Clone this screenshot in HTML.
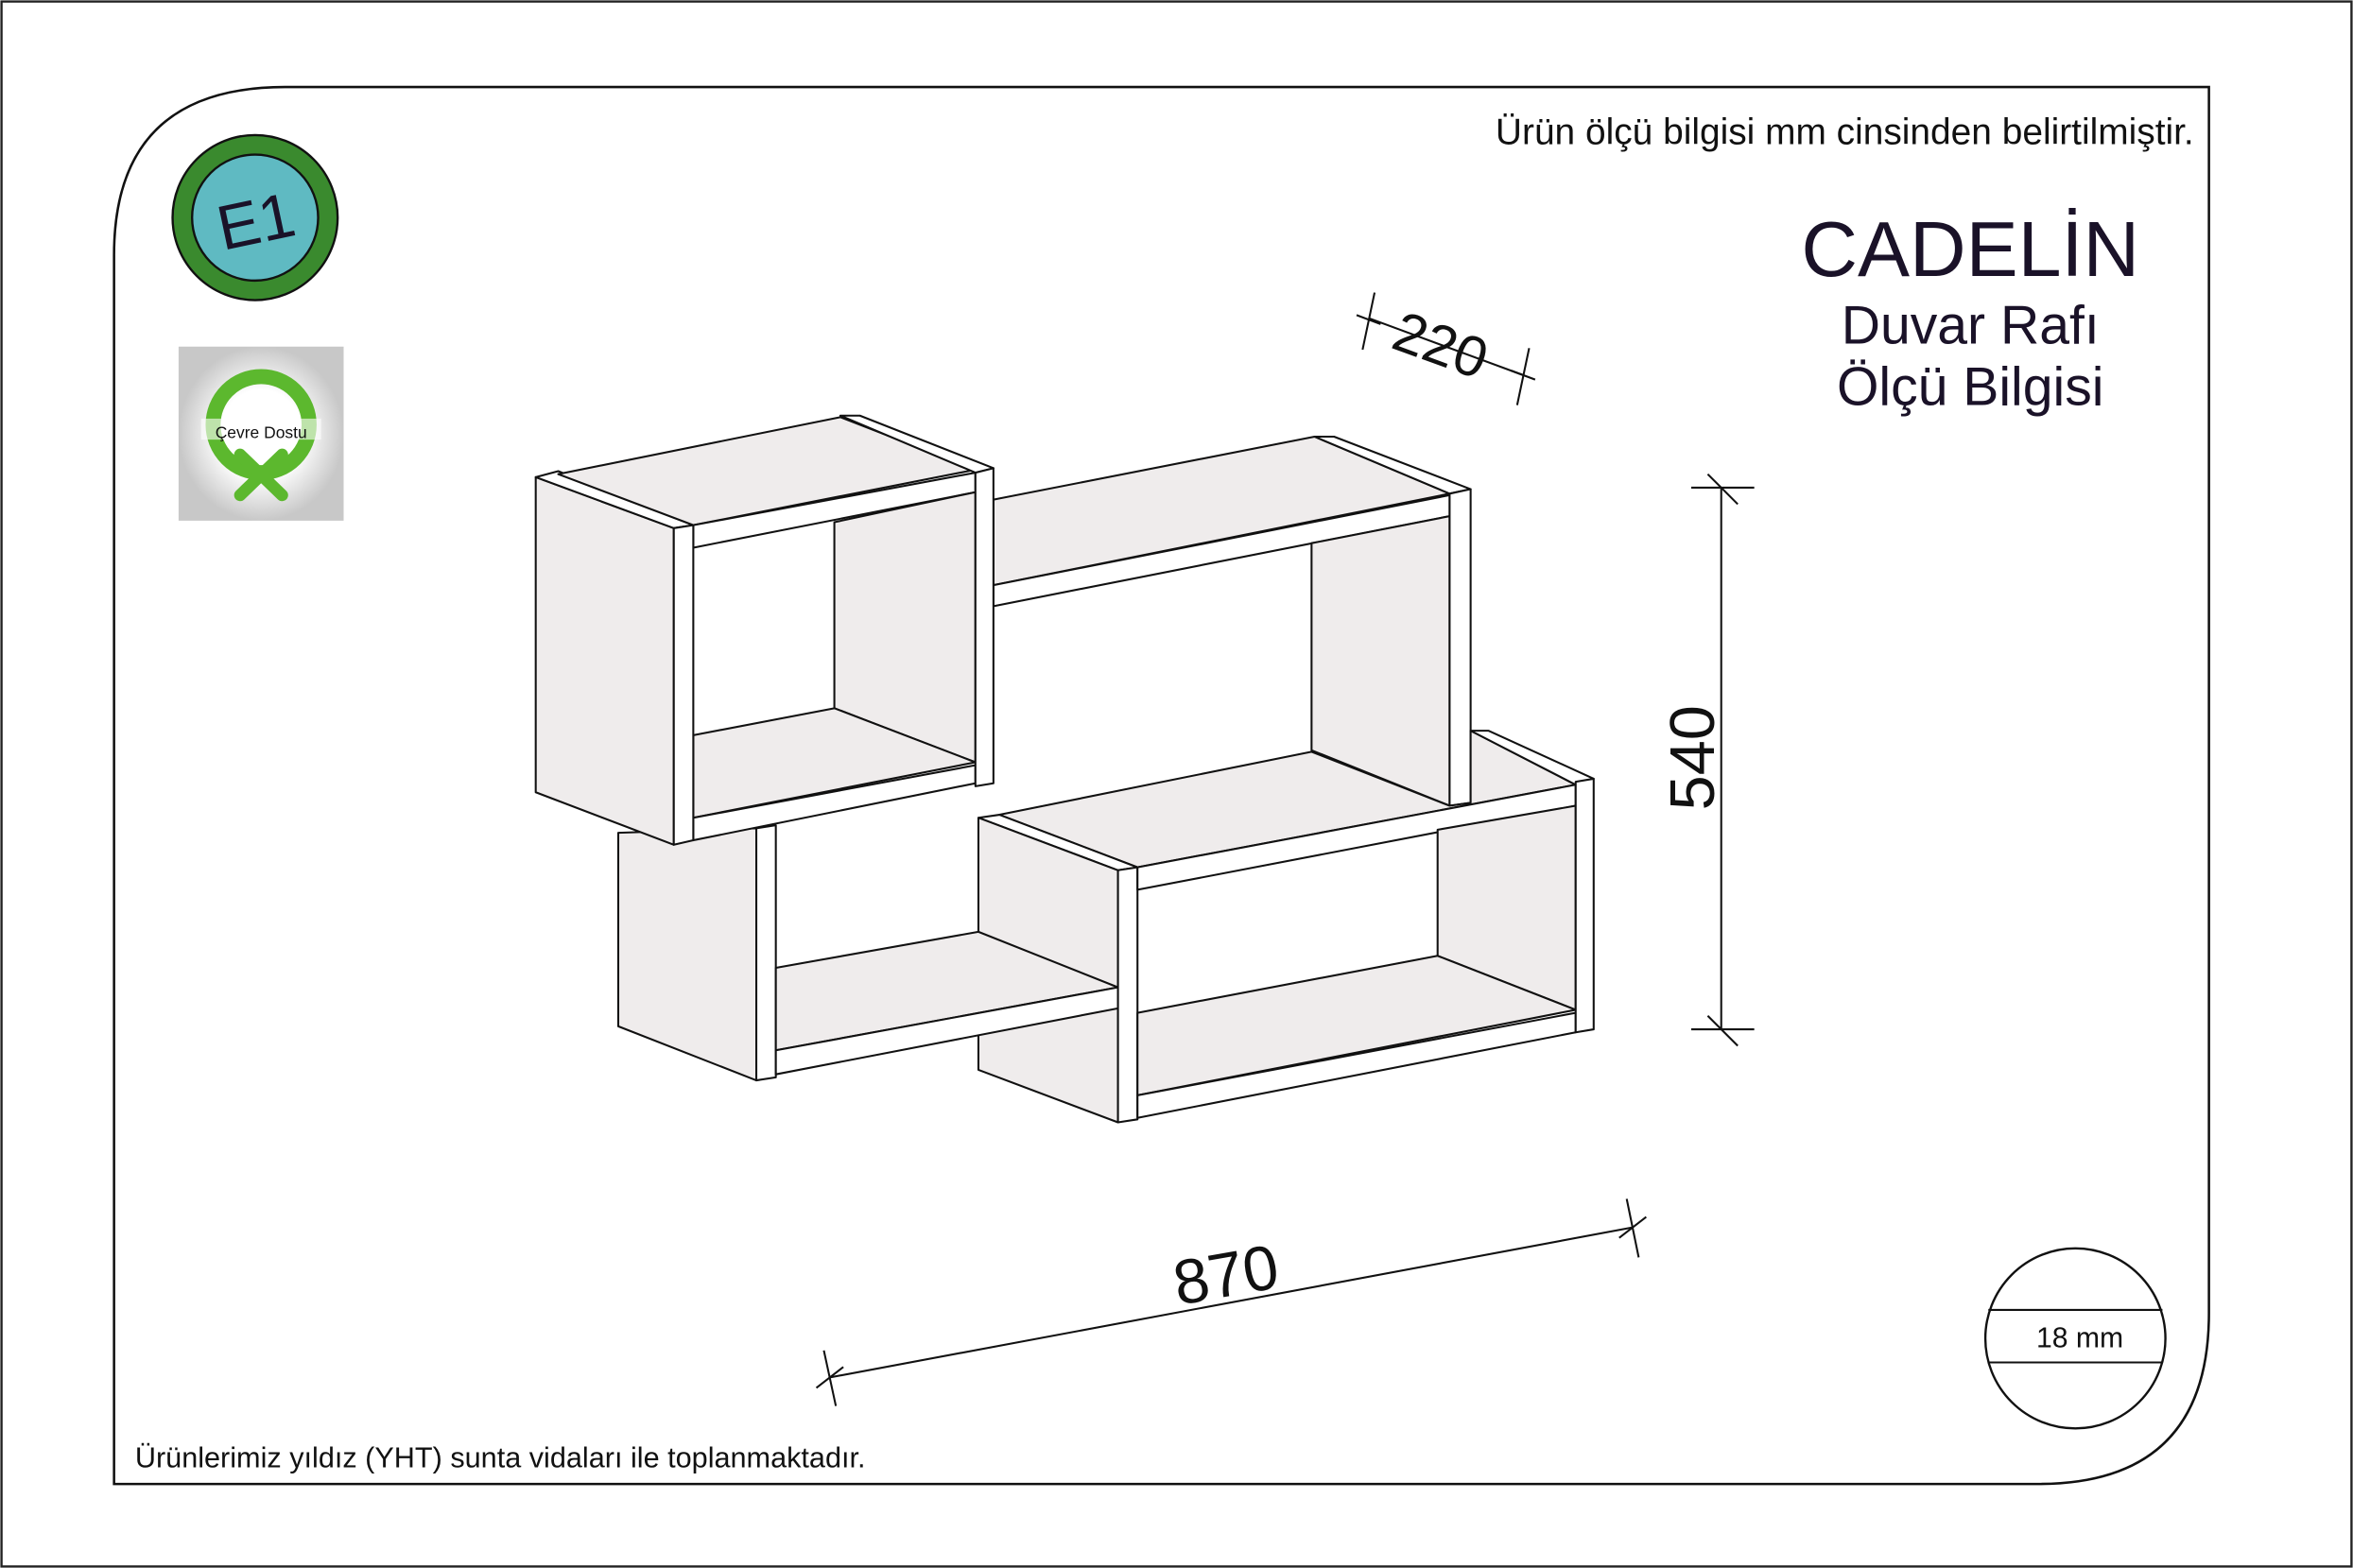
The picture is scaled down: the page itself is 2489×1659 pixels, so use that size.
<!DOCTYPE html>
<html><head><meta charset="utf-8"><style>
html,body{margin:0;padding:0;background:#fff;}
svg{display:block;}
text{font-family:"Liberation Sans",sans-serif;}
</style></head><body>
<svg width="2489" height="1659" viewBox="0 0 1568 1045" preserveAspectRatio="none" xmlns="http://www.w3.org/2000/svg">
<rect x="1" y="1" width="1566" height="1043" fill="#fff" stroke="#222" stroke-width="1.5"/>
<path d="M76,989 L76,170 Q76,58 190,58 L1472,58 L1472,875 Q1472,989 1358,989 Z" fill="none" stroke="#111" stroke-width="1.6"/>
<text x="1462" y="96" font-size="24.5" text-anchor="end" fill="#111">Ürün ölçü bilgisi mm cinsinden belirtilmiştir.</text>
<text x="1313" y="184" font-size="52" text-anchor="middle" fill="#1a1228">CADELİN</text>
<text x="1313" y="229" font-size="36" text-anchor="middle" fill="#1a1228">Duvar Rafı</text>
<text x="1313" y="270" font-size="36" text-anchor="middle" fill="#1a1228">Ölçü Bilgisi</text>
<text x="90" y="978" font-size="19.3" fill="#111">Ürünlerimiz yıldız (YHT) sunta vidaları ile toplanmaktadır.</text>
<!-- E1 -->
<circle cx="170" cy="145" r="55" fill="#3a8a2e" stroke="#111" stroke-width="1.5"/>
<circle cx="170" cy="145" r="42" fill="#5fbac2" stroke="#111" stroke-width="1.5"/>
<text x="170" y="162" font-size="42" text-anchor="middle" fill="#1a1228" transform="rotate(-12 170 145)">E1</text>
<!-- Cevre dostu -->
<defs><radialGradient id="rg"><stop offset="0.5" stop-color="#fff"/><stop offset="1" stop-color="#c8c8c8"/></radialGradient></defs>
<rect x="119" y="231" width="110" height="116" fill="url(#rg)"/>
<circle cx="174" cy="283" r="32" fill="none" stroke="#5cb82e" stroke-width="10"/>
<path d="M160,303 L188,330 M188,303 L160,330" stroke="#5cb82e" stroke-width="8" stroke-linecap="round"/>
<rect x="134" y="279" width="80" height="14" fill="#fff" opacity="0.6"/>
<text x="174" y="292" font-size="11" text-anchor="middle" fill="#111" font-family="Liberation Serif,serif">Çevre Dostu</text>
<!-- 18 mm -->
<circle cx="1383" cy="892" r="60" fill="#fff" stroke="#111" stroke-width="1.5"/>
<line x1="1325" y1="873" x2="1441" y2="873" stroke="#111" stroke-width="1.3"/>
<line x1="1325" y1="908" x2="1441" y2="908" stroke="#111" stroke-width="1.3"/>
<text x="1386" y="898" font-size="19" text-anchor="middle" fill="#111">18 mm</text>
<!-- dims -->
<g stroke="#111" stroke-width="1.3" fill="none">
<line x1="1147" y1="325" x2="1147" y2="686"/>
<line x1="1127" y1="325" x2="1169" y2="325"/><line x1="1138" y1="316" x2="1158" y2="336"/>
<line x1="1127" y1="686" x2="1169" y2="686"/><line x1="1138" y1="677" x2="1158" y2="697"/>
<line x1="553" y1="918" x2="1088" y2="818"/>
<line x1="549" y1="900" x2="557" y2="937"/><line x1="544" y1="925" x2="562" y2="911"/>
<line x1="1084" y1="799" x2="1092" y2="838"/><line x1="1079" y1="825" x2="1097" y2="811"/>
<line x1="912" y1="212" x2="1015" y2="250"/>
<line x1="916" y1="195" x2="908" y2="233"/><line x1="904" y1="210" x2="920" y2="216"/>
<line x1="1019" y1="232" x2="1011" y2="270"/><line x1="1007" y1="247" x2="1023" y2="253"/>
</g>
<text x="1142" y="505" font-size="42" text-anchor="middle" fill="#111" transform="rotate(-90 1142 505)">540</text>
<text x="817" y="864" font-size="42" text-anchor="middle" fill="#111" transform="rotate(-10 817 850)">870</text>
<text x="960" y="243" font-size="38" text-anchor="middle" fill="#111" transform="rotate(20 960 230)">220</text>
<!-- shelf -->
<g stroke="#111" stroke-width="1.3" stroke-linejoin="round">
<!-- lower left box side -->
<polygon points="412,555 504,552 504,720 412,684" fill="#efecec"/>
<polygon points="504,552 517,550 517,718 504,720" fill="#fff"/>
<!-- middle top unit -->
<polygon points="662,333 876,291 966,329 662,390" fill="#efecec"/>
<polygon points="662,390 966,330 966,344 662,404" fill="#fff"/>
<polygon points="876,291 889,291 980,326 966,329" fill="#fff"/>
<polygon points="874,362 966,344 966,537 874,500" fill="#efecec"/>
<polygon points="966,329 980,326 980,535 966,537" fill="#fff"/>
<!-- lower right box -->
<polygon points="666,543 874,501 966,537 980,535 980,487 1050,523 758,578" fill="#efecec"/>
<polygon points="980,487 992,487 1062,519 1050,523" fill="#fff"/>
<polygon points="652,545 666,543 758,578 745,580" fill="#fff"/>
<polygon points="652,545 745,580 745,748 652,713" fill="#efecec"/>
<!-- lower left floor over the lower right side -->
<polygon points="517,645 652,621 745,658 517,700" fill="#efecec"/>
<polygon points="517,700 745,658 745,672 517,716" fill="#fff"/>
<polygon points="745,580 758,578 758,746 745,748" fill="#fff"/>
<polygon points="758,578 1050,523 1050,537 758,593" fill="#fff"/>
<polygon points="958,553 1050,537 1050,673 958,637" fill="#efecec"/>
<polygon points="758,675 958,637 1050,673 758,730" fill="#efecec"/>
<polygon points="758,730 1050,675 1050,688 758,745" fill="#fff"/>
<polygon points="1050,521 1062,519 1062,686 1050,688" fill="#fff"/>
<!-- top left box -->
<polygon points="357,318 449,352 449,563 357,528" fill="#efecec"/>
<polygon points="357,318 372,314 462,350 449,352" fill="#fff"/>
<polygon points="372,316 560,278 650,313 462,350" fill="#efecec"/>
<polygon points="560,277 573,277 662,312 650,315" fill="#fff"/>
<polygon points="462,350 650,315 650,328 462,365" fill="#fff"/>
<polygon points="556,348 650,328 650,508 556,472" fill="#efecec"/>
<polygon points="462,490 556,472 650,508 462,545" fill="#efecec"/>
<polygon points="462,545 650,510 650,522 462,560" fill="#fff"/>
<polygon points="449,352 462,350 462,560 449,563" fill="#fff"/>
<polygon points="650,315 662,312 662,522 650,524" fill="#fff"/>
</g>
</svg>
</body></html>
